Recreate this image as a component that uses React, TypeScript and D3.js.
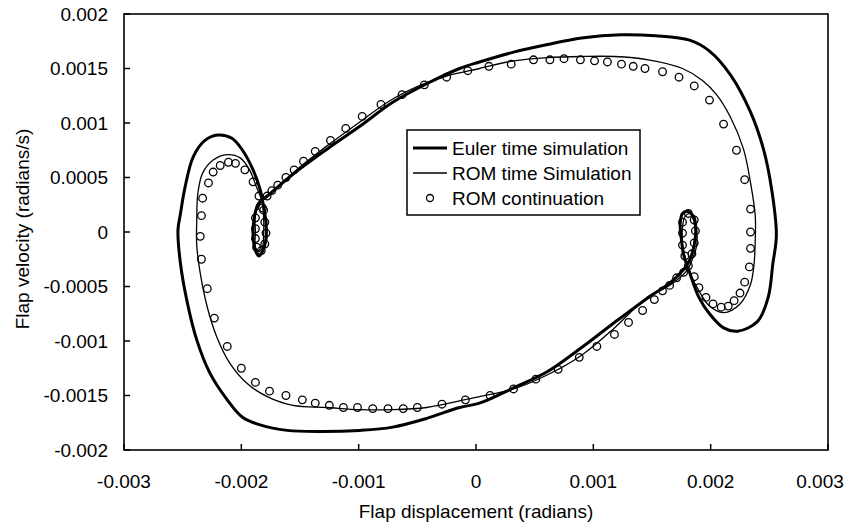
import React from "react";
import * as d3 from "d3";

const xTickValues = [-0.003, -0.002, -0.001, 0, 0.001, 0.002, 0.003];
const xTickLabels = ["-0.003", "-0.002", "-0.001", "0", "0.001", "0.002", "0.003"];
const yTickValues = [-0.002, -0.0015, -0.001, -0.0005, 0, 0.0005, 0.001, 0.0015, 0.002];
const yTickLabels = ["-0.002", "-0.0015", "-0.001", "-0.0005", "0", "0.0005", "0.001", "0.0015", "0.002"];

const seriesNames = ["Euler time simulation", "ROM time Simulation", "ROM continuation"];

// Euler time simulation (closed orbit, [displacement, velocity])
const eulerOrbit: [number, number][] = [
  [-0.00178, 0.00033], [-0.00156, 0.00053], [-0.00127, 0.00076], [-0.00099, 0.00097],
  [-0.00071, 0.00119], [-0.00042, 0.00136], [-0.00014, 0.0015], [0.00003, 0.00156],
  [0.00032, 0.00165], [0.00061, 0.00172], [0.0009, 0.00178], [0.00124, 0.00181],
  [0.00153, 0.0018], [0.00182, 0.00176], [0.00199, 0.00166], [0.00217, 0.00144],
  [0.00234, 0.0011], [0.00245, 0.00076], [0.00252, 0.00039], [0.00256, -0.00003],
  [0.00253, -0.00029], [0.00249, -0.0006], [0.0024, -0.00082], [0.00223, -0.00091],
  [0.00211, -0.00088], [0.00199, -0.00075], [0.0019, -0.0006], [0.00182, -0.00037],
  [0.00177, -0.00021], [0.00175, -0.00006], [0.00174, 0.00008], [0.00176, 0.00017],
  [0.0018, 0.00019], [0.00184, 0.00016], [0.00187, 0.00006], [0.00186, -0.00012],
  [0.00182, -0.00026], [0.00178, -0.00033], [0.00165, -0.00047], [0.00147, -0.0006],
  [0.00118, -0.00083], [0.0009, -0.00106], [0.00061, -0.00128], [0.00032, -0.00143],
  [0.00003, -0.00157], [-0.00014, -0.00161], [-0.00042, -0.00171], [-0.00071, -0.00179],
  [-0.00099, -0.00182], [-0.00133, -0.00183], [-0.00161, -0.00182], [-0.00184, -0.00177],
  [-0.00199, -0.0017], [-0.00212, -0.00154], [-0.00227, -0.00129], [-0.00238, -0.00099],
  [-0.00246, -0.00065], [-0.00252, -0.00028], [-0.00254, 0.00002], [-0.00252, 0.00016],
  [-0.00248, 0.00041], [-0.00241, 0.00069], [-0.00231, 0.00084], [-0.0022, 0.00089],
  [-0.00208, 0.00086], [-0.00199, 0.00075], [-0.0019, 0.00057], [-0.00184, 0.00039],
  [-0.00181, 0.00023], [-0.00179, 0.00009], [-0.00179, -0.00007], [-0.00182, -0.00018],
  [-0.00185, -0.00022], [-0.00188, -0.00017], [-0.0019, -0.00003], [-0.00189, 0.00013],
  [-0.00186, 0.00025], [-0.00182, 0.0003],
];

// ROM time simulation (closed orbit)
const romOrbit: [number, number][] = [
  [-0.00178, 0.00032], [-0.00154, 0.00056], [-0.00127, 0.00079], [-0.00099, 0.00101],
  [-0.00071, 0.00122], [-0.00042, 0.00137], [-0.00025, 0.00143], [0.00003, 0.0015],
  [0.00032, 0.00157], [0.00061, 0.0016], [0.0009, 0.00161], [0.00118, 0.00161],
  [0.00147, 0.00158], [0.00176, 0.0015], [0.00193, 0.00139], [0.00205, 0.00126],
  [0.00217, 0.00105], [0.00228, 0.00076], [0.00234, 0.00045], [0.00238, 0.00015],
  [0.00238, -0.00007], [0.00237, -0.00029], [0.00234, -0.00048], [0.00225, -0.00066],
  [0.00211, -0.00074], [0.00199, -0.00068], [0.0019, -0.00054], [0.00183, -0.00039],
  [0.00179, -0.00026], [0.00176, -0.00012], [0.00176, 0.00004], [0.00178, 0.00014],
  [0.00182, 0.00017], [0.00186, 0.00015], [0.00188, 0.00004], [0.00188, -0.00013],
  [0.00184, -0.00026], [0.0018, -0.00035], [0.00165, -0.00049], [0.00147, -0.00059],
  [0.00118, -0.00088], [0.0009, -0.00113], [0.00061, -0.00131], [0.00032, -0.00144],
  [0.00003, -0.00151], [-0.00014, -0.00155], [-0.00042, -0.00161], [-0.00071, -0.00163],
  [-0.00099, -0.00163], [-0.00127, -0.00161], [-0.00156, -0.00159], [-0.00178, -0.00151],
  [-0.00195, -0.00139], [-0.0021, -0.0012], [-0.00221, -0.00096], [-0.00229, -0.00069],
  [-0.00235, -0.00038], [-0.00238, -0.00012], [-0.00238, 0.00011], [-0.00237, 0.00036],
  [-0.00233, 0.00054], [-0.00224, 0.00066], [-0.00212, 0.00071], [-0.00201, 0.00068],
  [-0.00193, 0.00057], [-0.00187, 0.00041], [-0.00182, 0.00027], [-0.00181, 0.00013],
  [-0.00181, -0.00003], [-0.00182, -0.00014], [-0.00185, -0.00018], [-0.00188, -0.00014],
  [-0.00188, 0.0], [-0.00188, 0.00016], [-0.00184, 0.00026], [-0.00181, 0.0003],
];

// ROM continuation (markers)
const romContinuation: [number, number][] = [
  [-0.00178, 0.00033], [-0.00174, 0.00038], [-0.00169, 0.00043], [-0.00162, 0.0005],
  [-0.00155, 0.00057], [-0.00147, 0.00065], [-0.00137, 0.00074], [-0.00124, 0.00084],
  [-0.00111, 0.00095], [-0.00097, 0.00106], [-0.00081, 0.00117], [-0.00063, 0.00126],
  [-0.00044, 0.00135], [-0.00025, 0.00142], [-0.00007, 0.00148], [0.00011, 0.00152],
  [0.0003, 0.00154], [0.00049, 0.00158], [0.00063, 0.00158], [0.00075, 0.00159],
  [0.00089, 0.00158], [0.00101, 0.00157], [0.00112, 0.00156], [0.00124, 0.00154],
  [0.00134, 0.00152], [0.00144, 0.0015], [0.00159, 0.00147], [0.00173, 0.00142],
  [0.00186, 0.00134], [0.00199, 0.00121], [0.00211, 0.00099], [0.00222, 0.00075],
  [0.00229, 0.00048], [0.00234, 0.00021], [0.00234, 0.0], [0.00234, -0.00015],
  [0.00233, -0.00032], [0.00229, -0.00046], [0.00225, -0.00056], [0.0022, -0.00063],
  [0.00215, -0.00068], [0.00209, -0.00069], [0.00202, -0.00066], [0.00196, -0.0006],
  [0.0019, -0.00051], [0.00186, -0.00041],
  [0.00181, -0.00031], [0.00178, -0.00022], [0.00176, -0.00012], [0.00176, -0.00001],
  [0.00176, 0.00009], [0.00181, 0.00017], [0.00186, 0.00011], [0.00187, 0.00001],
  [0.00186, -0.0001], [0.00184, -0.0002],
  [0.00177, -0.00037], [0.00171, -0.00042], [0.00165, -0.00049], [0.00159, -0.00054],
  [0.00152, -0.00062], [0.00142, -0.00072], [0.0013, -0.00083], [0.00118, -0.00094],
  [0.00103, -0.00105], [0.00088, -0.00115], [0.0007, -0.00126], [0.00051, -0.00135],
  [0.00032, -0.00144], [0.00012, -0.0015], [-0.00009, -0.00154], [-0.00029, -0.00158],
  [-0.0005, -0.00161], [-0.00062, -0.00162], [-0.00075, -0.00162], [-0.00088, -0.00162],
  [-0.00101, -0.00161], [-0.00113, -0.00161], [-0.00125, -0.00159], [-0.00137, -0.00157],
  [-0.00148, -0.00154], [-0.00162, -0.0015], [-0.00176, -0.00146], [-0.00188, -0.00138],
  [-0.002, -0.00125], [-0.00212, -0.00105], [-0.00223, -0.00079], [-0.00229, -0.00052],
  [-0.00234, -0.00025], [-0.00235, -0.00004], [-0.00234, 0.00015], [-0.00233, 0.00031],
  [-0.00228, 0.00045], [-0.00224, 0.00055], [-0.00218, 0.00061], [-0.00211, 0.00064],
  [-0.00205, 0.00063], [-0.00197, 0.00057], [-0.0019, 0.00046], [-0.00185, 0.00033],
  [-0.00182, 0.00022], [-0.00188, 0.00013], [-0.00188, 0.00003], [-0.00188, -0.00006],
  [-0.00187, -0.00014], [-0.00183, -0.00017], [-0.0018, -0.00011], [-0.00179, -0.00001],
  [-0.0018, 0.00009], [-0.00181, 0.0002],
];

const W = 852;
const H = 528;
const FONT = "'Liberation Sans', Arial, Helvetica, sans-serif";

export default function App() {
  const left = 124, right = 828, top = 14, bottom = 450;
  const xs = d3.scaleLinear().domain([-0.003, 0.003]).range([left, right]);
  const ys = d3.scaleLinear().domain([-0.002, 0.002]).range([bottom, top]);

  const line = d3
    .line<[number, number]>()
    .x((d) => xs(d[0]))
    .y((d) => ys(d[1]))
    .curve(d3.curveCatmullRomClosed.alpha(0.5));

  const fs = 19;

  return (
    <svg
      width={W}
      height={H}
      viewBox={`0 0 ${W} ${H}`}
      style={{ position: "absolute", left: 0, top: 0, background: "#fff" }}
      fontFamily={FONT}
    >
      <rect x={0} y={0} width={W} height={H} fill="#fff" />
      {/* curves */}
      <path d={line(romOrbit) || ""} fill="none" stroke="#000" strokeWidth={1.3} />
      <path d={line(eulerOrbit) || ""} fill="none" stroke="#000" strokeWidth={3} />
      {romContinuation.map((d, i) => (
        <circle key={i} cx={xs(d[0])} cy={ys(d[1])} r={3.8} fill="none" stroke="#000" strokeWidth={1.3} />
      ))}

      {/* frame */}
      <rect x={left} y={top} width={right - left} height={bottom - top} fill="none" stroke="#000" strokeWidth={1.6} />

      {/* y ticks */}
      {yTickValues.map((v, i) => (
        <g key={"y" + i}>
          <line x1={left} x2={left + 6} y1={ys(v)} y2={ys(v)} stroke="#000" strokeWidth={1.5} />
          <text x={108} y={ys(v)} textAnchor="end" dominantBaseline="central" fontSize={fs} fill="#000">
            {yTickLabels[i]}
          </text>
        </g>
      ))}
      {/* x ticks */}
      {xTickValues.map((v, i) => (
        <g key={"x" + i}>
          <line x1={xs(v)} x2={xs(v)} y1={bottom} y2={bottom - 6} stroke="#000" strokeWidth={1.5} />
          <text
            x={Math.min(xs(v), W - 32)}
            y={481}
            textAnchor="middle"
            dominantBaseline="central"
            fontSize={fs}
            fill="#000"
          >
            {xTickLabels[i]}
          </text>
        </g>
      ))}

      {/* axis titles */}
      <text x={(left + right) / 2} y={511} textAnchor="middle" dominantBaseline="central" fontSize={fs} fill="#000">
        Flap displacement (radians)
      </text>
      <text
        transform={`translate(22, ${(top + bottom) / 2 - 3}) rotate(-90)`}
        textAnchor="middle"
        dominantBaseline="central"
        fontSize={fs}
        fill="#000"
      >
        Flap velocity (radians/s)
      </text>

      {/* legend */}
      <g>
        <rect x={407} y={130} width={233} height={85} fill="#fff" stroke="#000" strokeWidth={1.5} />
        <line x1={413} x2={447} y1={148} y2={148} stroke="#000" strokeWidth={3} />
        <text x={452} y={148} dominantBaseline="central" fontSize={fs} fill="#000">{seriesNames[0]}</text>
        <line x1={413} x2={447} y1={173} y2={173} stroke="#000" strokeWidth={1.3} />
        <text x={452} y={173} dominantBaseline="central" fontSize={fs} fill="#000">{seriesNames[1]}</text>
        <circle cx={430} cy={198} r={3.5} fill="none" stroke="#000" strokeWidth={1.3} />
        <text x={452} y={198} dominantBaseline="central" fontSize={fs} fill="#000">{seriesNames[2]}</text>
      </g>
    </svg>
  );
}
